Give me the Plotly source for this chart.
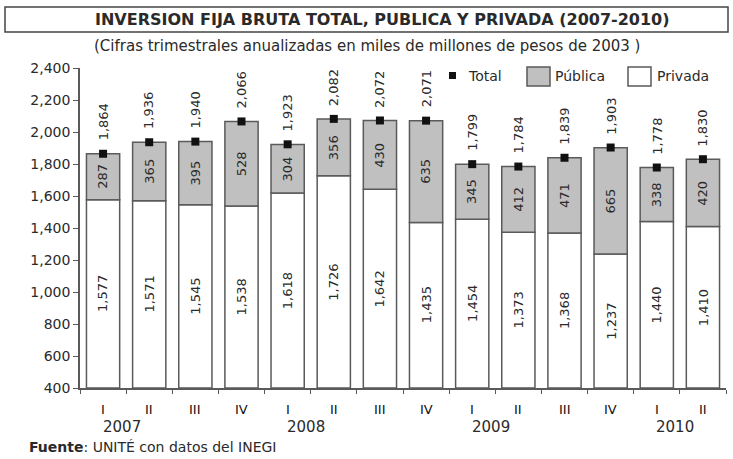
import plotly.graph_objects as go

# Quarterly gross fixed investment, annualized (thousands of millions of 2003 pesos)
quarters = ["I", "II", "III", "IV", "I", "II", "III", "IV", "I", "II", "III", "IV", "I", "II"]
years = ["2007", "2008", "2009", "2010"]
year_start_idx = [0, 4, 8, 12]
privada = [1577, 1571, 1545, 1538, 1618, 1726, 1642, 1435, 1454, 1373, 1368, 1237, 1440, 1410]
publica = [287, 365, 395, 528, 304, 356, 430, 635, 345, 412, 471, 665, 338, 420]
total = [1864, 1936, 1940, 2066, 1923, 2082, 2072, 2071, 1799, 1784, 1839, 1903, 1778, 1830]
y_ticks = list(range(400, 2401, 200))
Y_FLOOR = 400

FONT = "DejaVu Sans, Liberation Sans, Arial, sans-serif"
TXT = "#2a2a2a"
EDGE = "#5a5a5a"
GREY = "#c0c0c0"

x = list(range(len(quarters)))

fig = go.Figure()
# Private investment: white bars rising from the axis floor
fig.add_trace(go.Bar(
    x=x, y=[v - Y_FLOOR for v in privada], base=Y_FLOOR, name="Privada",
    marker=dict(color="white", line=dict(color=EDGE, width=1.5)),
    width=0.72, showlegend=False, hoverinfo="skip",
))
# Public investment stacked on top of private
fig.add_trace(go.Bar(
    x=x, y=publica, base=privada, name="Pública",
    marker=dict(color=GREY, line=dict(color=EDGE, width=1.5)),
    width=0.72, showlegend=False, hoverinfo="skip",
))
# Total markers
fig.add_trace(go.Scatter(
    x=x, y=total, mode="markers", name="Total",
    marker=dict(symbol="square", size=8, color="#111111"),
    showlegend=False,
))
fig.update_layout(barmode="overlay")

BAR_FONT = dict(family=FONT, size=13, color=TXT)
annotations = []
for i in x:
    # Private value, centred in the white segment
    annotations.append(dict(
        x=i, y=(Y_FLOOR + privada[i]) / 2, xref="x", yref="y", text=f"{privada[i]:,}",
        textangle=-90, showarrow=False, xanchor="center", yanchor="middle", font=BAR_FONT,
    ))
    # Public value, centred in the grey segment
    annotations.append(dict(
        x=i, y=privada[i] + publica[i] / 2, xref="x", yref="y", text=f"{publica[i]:,}",
        textangle=-90, showarrow=False, xanchor="center", yanchor="middle", font=BAR_FONT,
    ))
    # Total value above the marker
    annotations.append(dict(
        x=i, y=total[i], xref="x", yref="y", text=f"{total[i]:,}", textangle=-90,
        showarrow=False, xanchor="center", yanchor="bottom", yshift=11, font=BAR_FONT,
    ))

W, H, L, R, T, B = 733, 459, 80, 7, 68, 71
pw = W - L - R
ph = H - T - B


def px(xp):
    return (xp - L) / pw


def py(yp):
    return (H - B - yp) / ph


# Quarter labels
for i, q in enumerate(quarters):
    annotations.append(dict(
        x=i, y=py(409), xref="x", yref="paper", text=q, showarrow=False,
        xanchor="center", yanchor="middle",
        font=dict(family=FONT, size=13, color="#111111"),
    ))
# Year labels
for yr, idx in zip(years, year_start_idx):
    annotations.append(dict(
        x=idx - 0.05, y=py(427), xref="x", yref="paper", text=yr, showarrow=False,
        xanchor="left", yanchor="middle",
        font=dict(family=FONT, size=15, color=TXT),
    ))

# Title, subtitle, source, legend labels
annotations += [
    dict(x=px(382), y=py(19), xref="paper", yref="paper", showarrow=False,
         text="<b>INVERSION FIJA BRUTA TOTAL, PUBLICA Y PRIVADA (2007-2010)</b>",
         xanchor="center", yanchor="middle", font=dict(family=FONT, size=16, color=TXT)),
    dict(x=px(367), y=py(46), xref="paper", yref="paper", showarrow=False,
         text="(Cifras trimestrales anualizadas en miles de millones de pesos de 2003 )",
         xanchor="center", yanchor="middle", font=dict(family=FONT, size=15, color=TXT)),
    dict(x=px(27), y=py(447), xref="paper", yref="paper", showarrow=False,
         text="<b>Fuente</b>: UNITÉ con datos del INEGI",
         xanchor="left", yanchor="middle", font=dict(family=FONT, size=14, color=TXT)),
    dict(x=px(466), y=py(76), xref="paper", yref="paper", showarrow=False, text="Total",
         xanchor="left", yanchor="middle", font=dict(family=FONT, size=14, color=TXT)),
    dict(x=px(553), y=py(76), xref="paper", yref="paper", showarrow=False, text="Pública",
         xanchor="left", yanchor="middle", font=dict(family=FONT, size=14, color=TXT)),
    dict(x=px(655), y=py(76), xref="paper", yref="paper", showarrow=False, text="Privada",
         xanchor="left", yanchor="middle", font=dict(family=FONT, size=14, color=TXT)),
]

shapes = [
    # Title frame
    dict(type="rect", xref="paper", yref="paper", x0=px(5), x1=px(728), y0=py(32), y1=py(7),
         line=dict(color="#444444", width=1.5)),
    # Legend swatches
    dict(type="rect", xref="paper", yref="paper", x0=px(449), x1=px(456), y0=py(79), y1=py(72),
         fillcolor="#111111", line=dict(width=0)),
    dict(type="rect", xref="paper", yref="paper", x0=px(527), x1=px(550), y0=py(86), y1=py(67),
         fillcolor=GREY, line=dict(color=EDGE, width=1.5)),
    dict(type="rect", xref="paper", yref="paper", x0=px(628), x1=px(651), y0=py(86), y1=py(67),
         fillcolor="white", line=dict(color=EDGE, width=1.5)),
]

fig.update_layout(
    width=W, height=H,
    margin=dict(l=L, r=R, t=T, b=B),
    paper_bgcolor="white", plot_bgcolor="white",
    annotations=annotations, shapes=shapes,
    font=dict(family=FONT, color=TXT),
    xaxis=dict(
        range=[-0.5, 13.5], tickmode="array",
        tickvals=[i - 0.5 for i in range(len(quarters) + 1)], ticktext=[""] * (len(quarters) + 1),
        ticks="outside", ticklen=4, tickcolor=EDGE, showline=True, linecolor=EDGE, linewidth=1.5,
        showgrid=False, zeroline=False,
    ),
    yaxis=dict(
        range=[400, 2400], tickmode="array", tickvals=y_ticks,
        ticktext=[f"{v:,}" for v in y_ticks],
        ticks="outside", ticklen=5, tickcolor=EDGE, showline=True, linecolor=EDGE, linewidth=1.5,
        showgrid=False, zeroline=False, tickfont=dict(family=FONT, size=14, color=TXT),
    ),
)

fig.write_html("out.html")
